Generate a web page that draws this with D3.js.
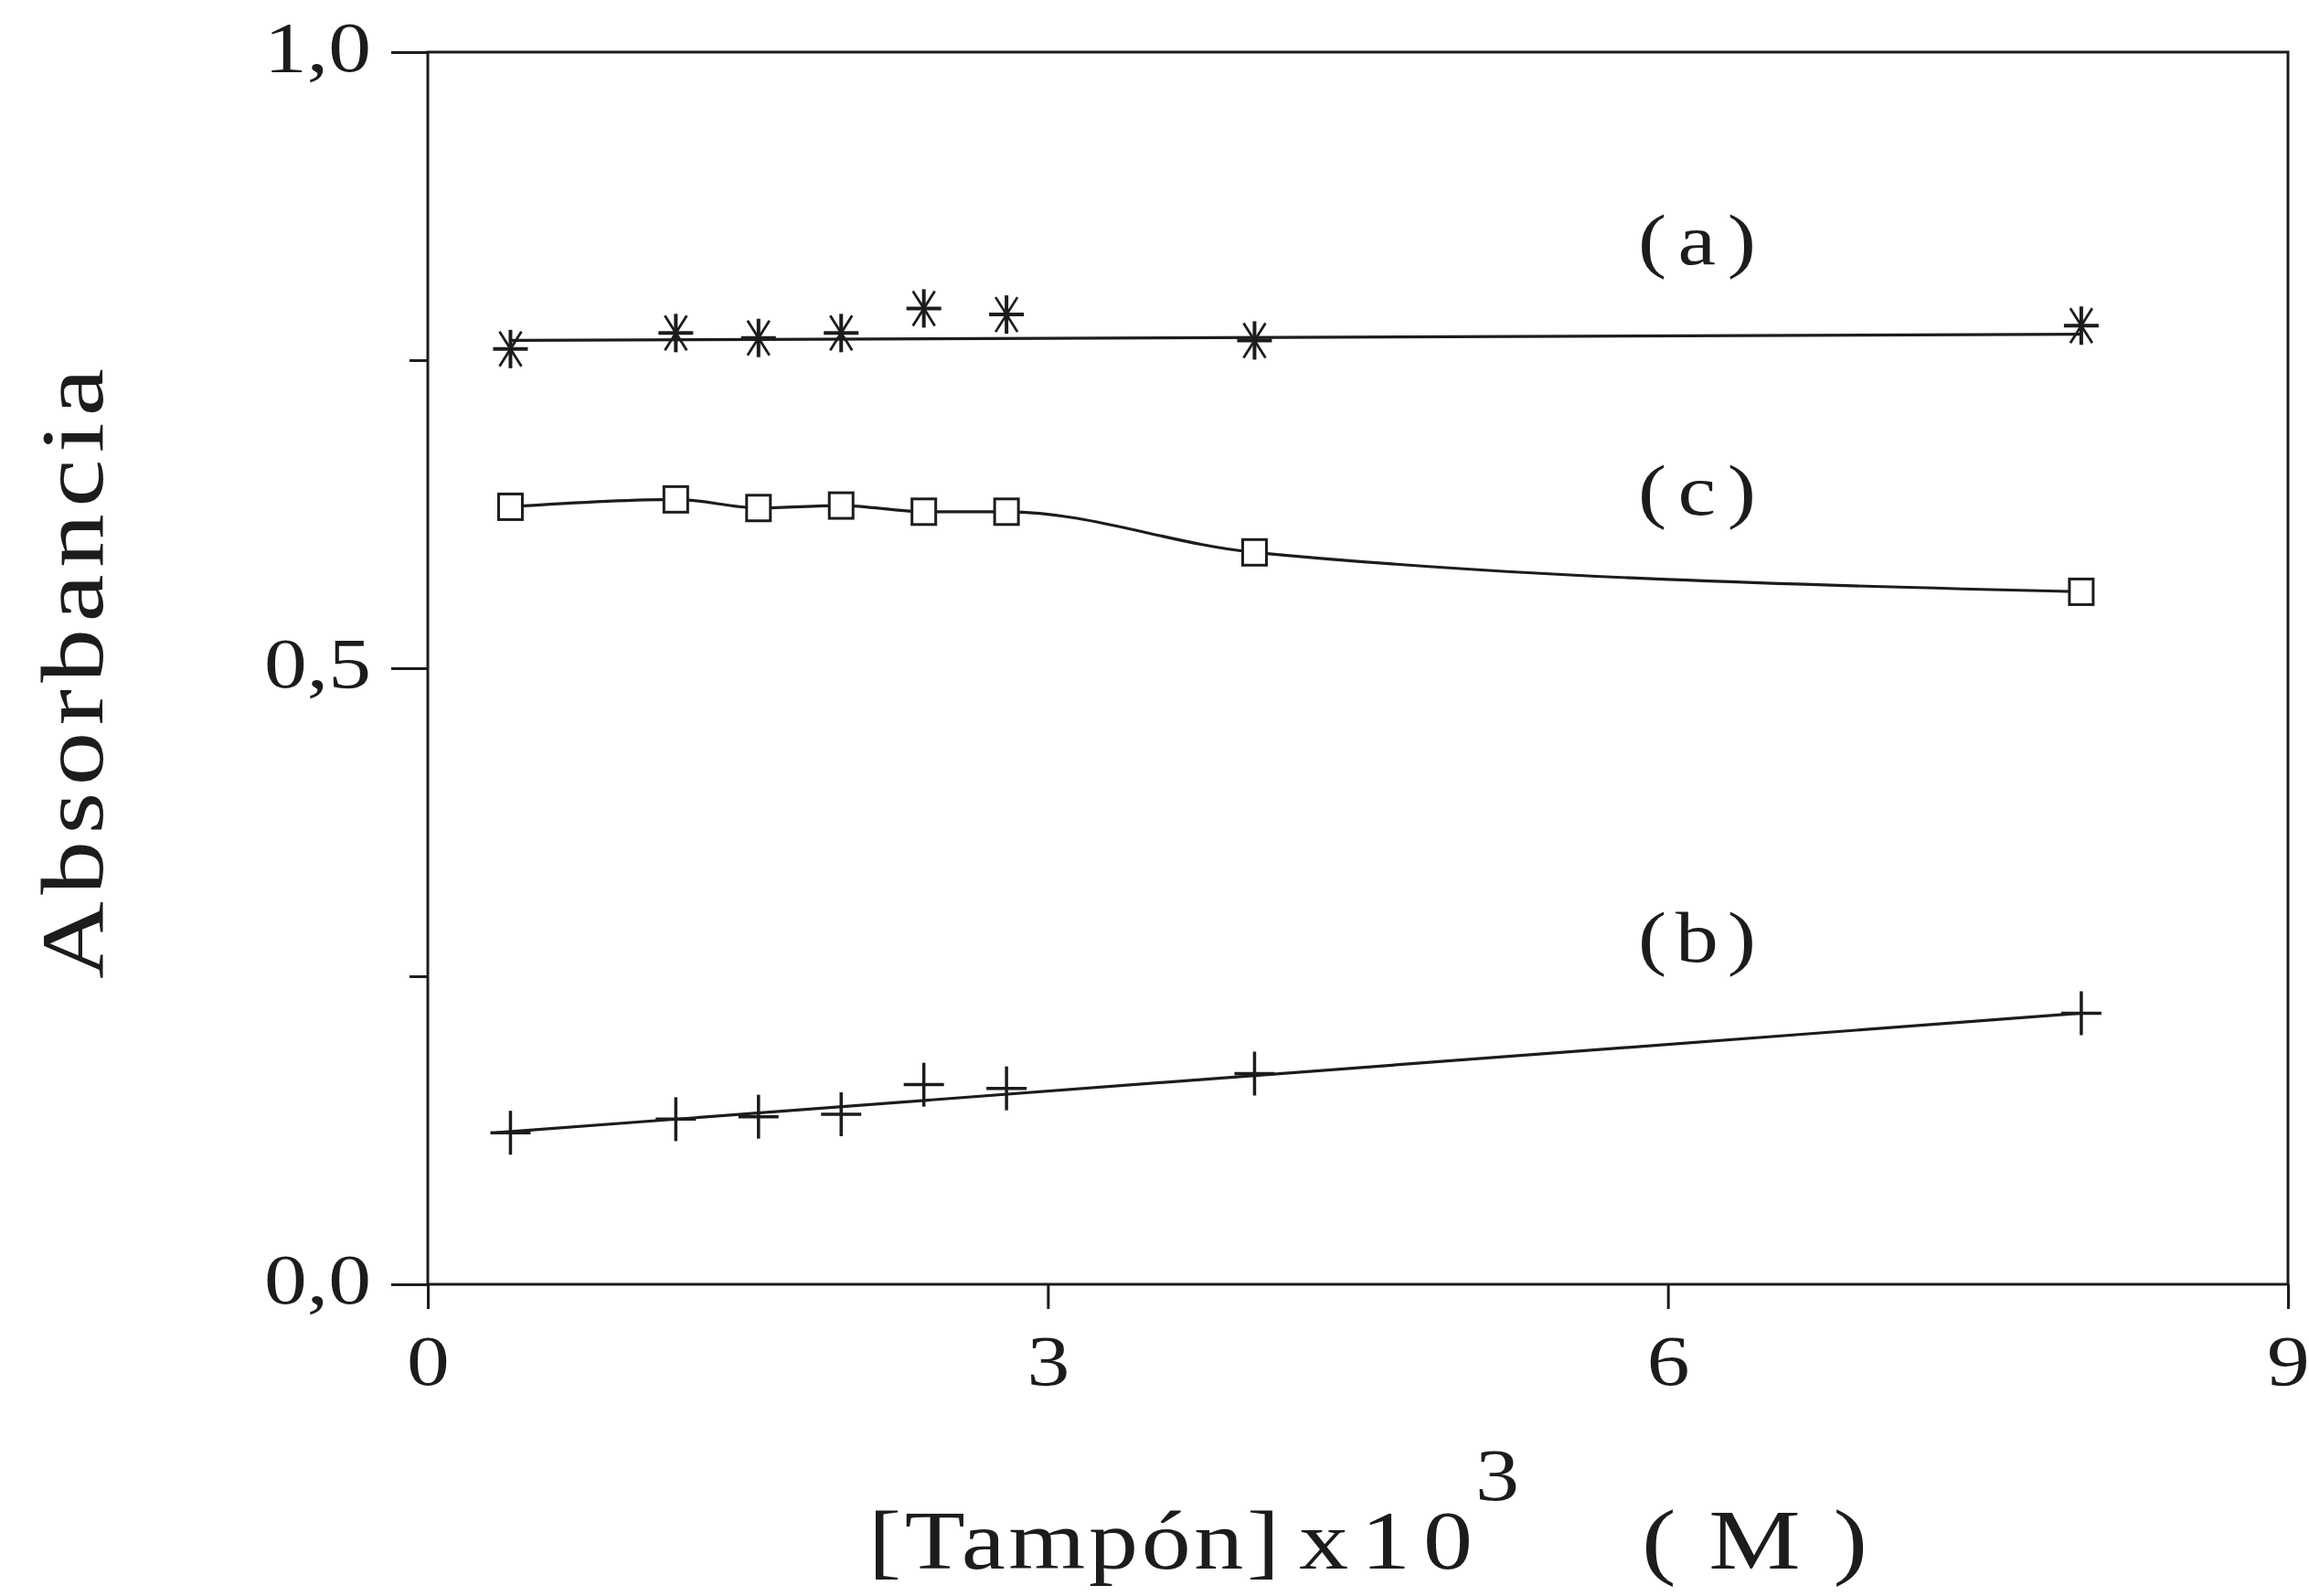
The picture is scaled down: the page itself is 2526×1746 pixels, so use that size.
<!DOCTYPE html>
<html>
<head>
<meta charset="utf-8">
<script src="https://cdn.jsdelivr.net/npm/d3@7"></script>
<style>
  html, body { margin: 0; padding: 0; background: #ffffff; }
  svg text { font-family: "Liberation Serif", "DejaVu Serif", serif; fill: #1c1c1c; }
</style>
</head>
<body>
<script>
// Buffer concentration (x 10^3 M) for each measurement
const bufferConc = [0.4, 1.2, 1.6, 2.0, 2.4, 2.8, 4.0, 8.0];

// Absorbance readings for the three solutions
const absA = [0.759, 0.772, 0.768, 0.772, 0.792, 0.787, 0.766, 0.778];
const absC = [0.631, 0.637, 0.630, 0.632, 0.627, 0.627, 0.594, 0.562];
const absB = [0.123, 0.134, 0.136, 0.138, 0.162, 0.159, 0.171, 0.220];

// Straight fitted lines for (a) and (b): end points
const fitAx = [0.4, 8.0];
const fitAy = [0.766, 0.771];
const fitBx = [0.33, 8.0];
const fitBy = [0.123, 0.220];

// Axis ticks
const xTicks = [0, 3, 6, 9];
const xTickLabels = ["0", "3", "6", "9"];
const yMajorTicks = [0, 0.5, 1.0];
const yTickLabels = ["0,0", "0,5", "1,0"];
const yMinorTicks = [0.25, 0.75];

// Curve labels
const curveNames = ["(a)", "(c)", "(b)"];
const curveLabelY = [0.828, 0.625, 0.262];
const curveLabelX = 6.2;

const W = 2526, H = 1746;
const plotLeft = 468, plotRight = 2503, plotTop = 57, plotBottom = 1405;
const ink = "#1c1c1c";
const SX = 1.2;   // horizontal stretch of the lettering

const svg = d3.select("body").append("svg")
  .attr("width", W).attr("height", H)
  .attr("viewBox", `0 0 ${W} ${H}`);

const x = d3.scaleLinear().domain([0, 9]).range([plotLeft, plotRight]);
const y = d3.scaleLinear().domain([0, 1]).range([plotBottom, plotTop]);

// Wide, lightly spaced lettering: text placed at (px, py), stretched horizontally
function wideText(parent, px, py, str, size, opts = {}) {
  const t = parent.append("text")
    .attr("transform", `translate(${px},${py})${opts.rotate ? ` rotate(${opts.rotate})` : ""} scale(${SX},1)`)
    .attr("font-size", size)
    .attr("text-anchor", opts.anchor || "start")
    .text(str);
  if (opts.width) t.attr("textLength", opts.width / SX).attr("lengthAdjust", "spacing");
  return t;
}

// Frame
svg.append("rect")
  .attr("x", plotLeft).attr("y", plotTop)
  .attr("width", plotRight - plotLeft).attr("height", plotBottom - plotTop)
  .attr("fill", "none").attr("stroke", ink).attr("stroke-width", 3);

// Bottom axis
const xAxis = d3.axisBottom(x).tickValues(xTicks)
  .tickSize(27).tickPadding(28)
  .tickFormat((d, i) => xTickLabels[i]);
const gx = svg.append("g").attr("transform", `translate(0,${plotBottom})`).call(xAxis);
gx.select(".domain").remove();
gx.selectAll(".tick line").attr("stroke", ink).attr("stroke-width", 3);
gx.selectAll(".tick text").attr("font-size", 78).attr("fill", ink)
  .attr("transform", `scale(${SX},1)`)
  .style("font-family", "Liberation Serif, serif");

// Left axis, major ticks with labels
const yAxis = d3.axisLeft(y).tickValues(yMajorTicks)
  .tickSize(40).tickPadding(22)
  .tickFormat((d, i) => yTickLabels[i]);
const gy = svg.append("g").attr("transform", `translate(${plotLeft},0)`).call(yAxis);
gy.select(".domain").remove();
gy.selectAll(".tick line").attr("stroke", ink).attr("stroke-width", 3);
gy.selectAll(".tick text").attr("font-size", 78).attr("fill", ink)
  .attr("x", -62 / SX).attr("dy", "0.26em")
  .attr("transform", `scale(${SX},1)`)
  .attr("textLength", 117 / SX).attr("lengthAdjust", "spacing")
  .style("font-family", "Liberation Serif, serif");

// Left axis, minor ticks
const yMinor = d3.axisLeft(y).tickValues(yMinorTicks).tickSize(20).tickFormat("");
const gym = svg.append("g").attr("transform", `translate(${plotLeft},0)`).call(yMinor);
gym.select(".domain").remove();
gym.selectAll(".tick line").attr("stroke", ink).attr("stroke-width", 3);

// Axis titles
wideText(svg, 112, (plotTop + plotBottom) / 2 + 6, "Absorbancia", 98,
  { rotate: -90, anchor: "middle", width: 668 });

const xt = svg.append("g");
wideText(xt, 950, 1716, "[Tampón]", 90, { width: 450 });
wideText(xt, 1421, 1716, "x10", 90, { width: 190 });
wideText(xt, 1614, 1641, "3", 80);
wideText(xt, 1796, 1716, "(M)", 94, { width: 247 });

// Fitted lines
const straight = d3.line().x(d => x(d[0])).y(d => y(d[1]));
svg.append("path")
  .attr("d", straight(d3.zip(fitAx, fitAy)))
  .attr("fill", "none").attr("stroke", ink).attr("stroke-width", 3.2);
svg.append("path")
  .attr("d", straight(d3.zip(fitBx, fitBy)))
  .attr("fill", "none").attr("stroke", ink).attr("stroke-width", 3.2);

// Smooth curve for (c)
const smooth = d3.line().x(d => x(d[0])).y(d => y(d[1])).curve(d3.curveMonotoneX);
svg.append("path")
  .attr("d", smooth(d3.zip(bufferConc, absC)))
  .attr("fill", "none").attr("stroke", ink).attr("stroke-width", 3.2);

// Markers: asterisks (a)
const star = svg.append("g").selectAll("g")
  .data(d3.zip(bufferConc, absA)).join("g")
  .attr("transform", d => `translate(${x(d[0])},${y(d[1])})`)
  .attr("stroke", ink).attr("stroke-width", 4).attr("fill", "none");
star.append("line").attr("x1", -19).attr("x2", 19).attr("y1", 0).attr("y2", 0);
star.append("line").attr("x1", 0).attr("x2", 0).attr("y1", -21).attr("y2", 21);
star.append("line").attr("x1", -12).attr("x2", 12).attr("y1", -19).attr("y2", 19).attr("stroke-width", 2.8);
star.append("line").attr("x1", -12).attr("x2", 12).attr("y1", 19).attr("y2", -19).attr("stroke-width", 2.8);

// Markers: open squares (c)
svg.append("g").selectAll("rect")
  .data(d3.zip(bufferConc, absC)).join("rect")
  .attr("x", d => x(d[0]) - 13).attr("y", d => y(d[1]) - 14)
  .attr("width", 26).attr("height", 28)
  .attr("fill", "#ffffff").attr("stroke", ink).attr("stroke-width", 3);

// Markers: plus signs (b)
const plus = svg.append("g").selectAll("g")
  .data(d3.zip(bufferConc, absB)).join("g")
  .attr("transform", d => `translate(${x(d[0])},${y(d[1])})`)
  .attr("stroke", ink).attr("stroke-width", 3.5);
plus.append("line").attr("x1", -22).attr("x2", 22).attr("y1", 0).attr("y2", 0);
plus.append("line").attr("x1", 0).attr("x2", 0).attr("y1", -24).attr("y2", 24);

// Curve labels
const labels = svg.append("g");
curveNames.forEach((name, i) => {
  wideText(labels, x(curveLabelX) - 78, y(curveLabelY[i]), name, 78, { width: 129 });
});
</script>
</body>
</html>
